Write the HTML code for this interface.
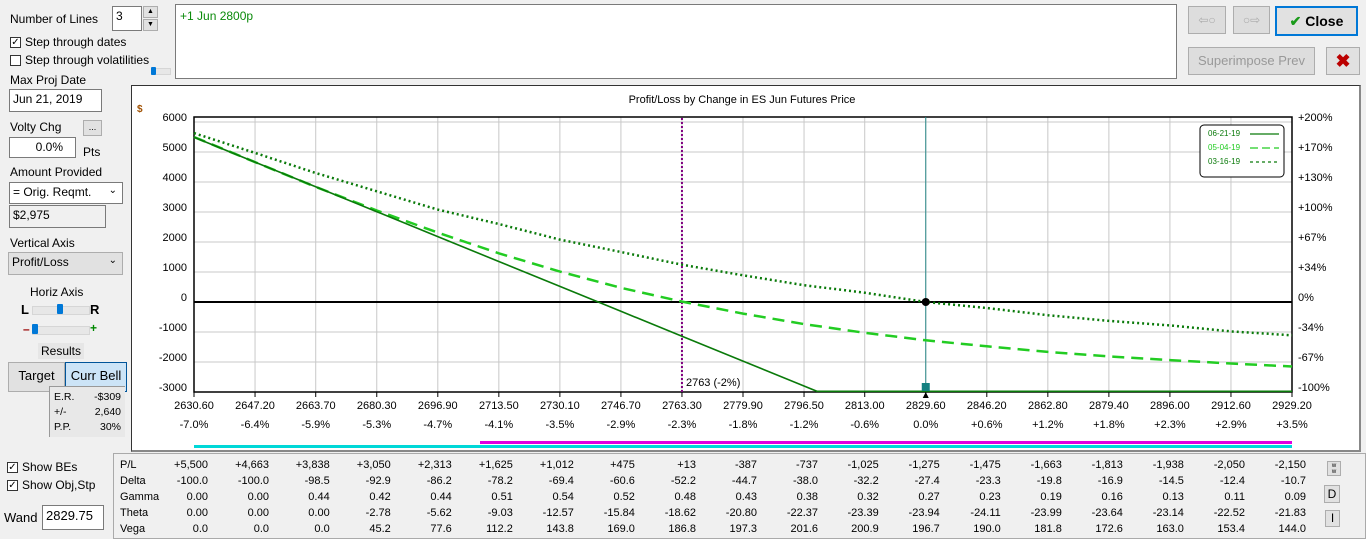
<!DOCTYPE html>
<html><head><meta charset="utf-8">
<style>
body{margin:0;width:1366px;height:539px;background:#f0f0f0;font-family:"Liberation Sans",sans-serif;font-size:12px;color:#000;position:relative;overflow:hidden}
.a{position:absolute}
.in{position:absolute;background:#fff;border:1px solid #7a7a7a;box-sizing:border-box;padding:2px 3px;font-size:12px}
.cb{position:absolute;width:11px;height:11px;border:1px solid #333;background:#fff;box-sizing:border-box;font-size:10px;line-height:9px;text-align:center}
.btn{position:absolute;border:1px solid #adadad;background:#e1e1e1;box-sizing:border-box;text-align:center}
.trk{position:absolute;height:7px;background:#e7e7e7;border:1px solid #d6d6d6}
.th{position:absolute;width:6px;height:10px;background:#0078d7;border-radius:1px}
.tbl{font-size:11px}
</style></head><body>
<div class="a" style="left:10px;top:12px">Number of Lines</div>
<div class="in" style="left:112px;top:6px;width:30px;height:25px">3</div>
<div class="btn" style="left:143px;top:6px;width:15px;height:12px;font-size:7px;line-height:10px">▲</div>
<div class="btn" style="left:143px;top:19px;width:15px;height:12px;font-size:7px;line-height:10px">▼</div>
<div class="cb" style="left:10px;top:37px">✓</div>
<div class="a" style="left:25px;top:35px">Step through dates</div>
<div class="cb" style="left:10px;top:55px"></div>
<div class="a" style="left:25px;top:53px">Step through volatilities</div>
<div class="trk" style="left:151px;top:68px;width:18px;height:5px"></div>
<div class="th" style="left:151px;top:67px;width:5px;height:8px"></div>
<div class="a" style="left:10px;top:73px">Max Proj Date</div>
<div class="in" style="left:9px;top:89px;width:93px;height:23px">Jun 21, 2019</div>
<div class="a" style="left:10px;top:120px">Volty Chg</div>
<div class="btn" style="left:83px;top:120px;width:19px;height:16px;font-size:9px;line-height:12px">...</div>
<div class="in" style="left:9px;top:137px;width:67px;height:21px;text-align:right;padding-right:12px">0.0%</div>
<div class="a" style="left:83px;top:145px">Pts</div>
<div class="a" style="left:10px;top:165px">Amount Provided</div>
<div class="in" style="left:9px;top:182px;width:114px;height:22px">= Orig. Reqmt.<span style="position:absolute;right:5px;top:2px;font-size:10px">⌄</span></div>
<div class="in" style="left:9px;top:205px;width:97px;height:23px;background:#f0f0f0">$2,975</div>
<div class="a" style="left:10px;top:236px">Vertical Axis</div>
<div class="in" style="left:8px;top:252px;width:115px;height:23px;background:#e1e1e1;border-color:#adadad">Profit/Loss<span style="position:absolute;right:5px;top:2px;font-size:10px">⌄</span></div>
<div class="a" style="left:30px;top:285px">Horiz Axis</div>
<div class="a" style="left:21px;top:302px;font-weight:bold;font-size:13px">L</div>
<div class="trk" style="left:32px;top:306px;width:56px"></div>
<div class="th" style="left:57px;top:304px"></div>
<div class="a" style="left:90px;top:302px;font-weight:bold;font-size:13px">R</div>
<div class="a" style="left:23px;top:322px;color:#900;font-weight:bold">–</div>
<div class="trk" style="left:32px;top:326px;width:56px"></div>
<div class="th" style="left:32px;top:324px"></div>
<div class="a" style="left:90px;top:321px;color:#080;font-weight:bold">+</div>
<div class="a" style="left:38px;top:343px;background:#e6e6e6;padding:1px 3px">Results</div>
<div class="btn" style="left:8px;top:362px;width:57px;height:30px;line-height:26px;font-size:13px">Target</div>
<div class="btn" style="left:65px;top:362px;width:62px;height:30px;line-height:26px;font-size:13px;background:#cce4f7;border-color:#005499">Curr Bell</div>
<div class="a" style="left:49px;top:386px;width:75px;height:50px;border-left:1px solid #999;border-top:1px solid #999;background:#e8e8e8;font-size:10.5px">
<div class="a" style="left:4px;top:4px">E.R.</div><div class="a" style="right:4px;top:4px">-$309</div>
<div class="a" style="left:4px;top:19px">+/-</div><div class="a" style="right:4px;top:19px">2,640</div>
<div class="a" style="left:4px;top:34px">P.P.</div><div class="a" style="right:4px;top:34px">30%</div></div>
<div class="cb" style="left:7px;top:462px">✓</div>
<div class="a" style="left:22px;top:460px">Show BEs</div>
<div class="cb" style="left:7px;top:480px">✓</div>
<div class="a" style="left:22px;top:478px">Show Obj,Stp</div>
<div class="a" style="left:4px;top:510px;font-size:13px">Wand</div>
<div class="in" style="left:42px;top:505px;width:62px;height:25px;font-size:13px">2829.75</div>

<div class="in" style="left:175px;top:4px;width:1002px;height:75px;color:#0a8a0a;padding:4px">+1 Jun 2800p</div>
<div class="btn" style="left:1188px;top:6px;width:38px;height:28px;color:#aaa;line-height:26px;background:#ddd">⇦○</div>
<div class="btn" style="left:1233px;top:6px;width:37px;height:28px;color:#aaa;line-height:26px;background:#ddd">○⇨</div>
<div class="btn" style="left:1275px;top:6px;width:83px;height:30px;border:2px solid #0078d7;font-weight:bold;font-size:14px;line-height:26px"><span style="color:#1a9a1a">✔</span> Close</div>
<div class="btn" style="left:1188px;top:47px;width:127px;height:28px;color:#999;line-height:26px;background:#ddd;font-size:13px">Superimpose Prev</div>
<div class="btn" style="left:1326px;top:47px;width:34px;height:28px;color:#b00;font-weight:bold;font-size:18px;line-height:26px">✖</div>

<div class="a" style="left:131px;top:85px;width:1230px;height:367px;background:#fff;border:1px solid #333;box-sizing:border-box;border-right:2px solid #888;border-bottom:2px solid #888"></div>
<svg class="a" style="left:0;top:0" width="1366" height="539" id="chart" font-family="Liberation Sans, sans-serif"></svg>

<div class="a tbl" style="left:113px;top:453px;width:1253px;height:86px;border:1px solid #aaa;box-sizing:border-box"></div>
<div class="btn" style="left:1327px;top:461px;width:14px;height:15px;font-size:6px;line-height:6px;padding-top:1px">w<br>w</div>
<div class="btn" style="left:1324px;top:485px;width:16px;height:18px;font-size:12px;line-height:16px">D</div>
<div class="btn" style="left:1325px;top:510px;width:15px;height:17px;font-size:12px;line-height:15px">I</div>

<script>
const prices=[2630.60,2647.20,2663.70,2680.30,2696.90,2713.50,2730.10,2746.70,2763.30,2779.90,2796.50,2813.00,2829.60,2846.20,2862.80,2879.40,2896.00,2912.60,2929.20];
const pctLabels=["-7.0%","-6.4%","-5.9%","-5.3%","-4.7%","-4.1%","-3.5%","-2.9%","-2.3%","-1.8%","-1.2%","-0.6%","0.0%","+0.6%","+1.2%","+1.8%","+2.3%","+2.9%","+3.5%"];
const yTicks=[6000,5000,4000,3000,2000,1000,0,-1000,-2000,-3000];
const rightLabels=["+200%","+170%","+130%","+100%","+67%","+34%","0%","-34%","-67%","-100%"];
const expiryPrices=[2630.6,2647.2,2663.7,2680.3,2696.9,2713.5,2730.1,2746.7,2763.3,2779.9,2796.5,2800,2813.0,2829.6,2929.2];
const expiryPL=[5495,4665,3840,3010,2180,1350,520,-310,-1140,-1970,-2800,-2975,-2975,-2975,-2975];
const midPL=[5500,4663,3838,3050,2313,1625,1012,475,13,-387,-737,-1025,-1275,-1475,-1663,-1813,-1938,-2050,-2150];
const nowPL=[5630,4970,4300,3690,3080,2600,2080,1667,1244,890,560,310,0,-200,-440,-630,-780,-980,-1110];
const delta=["-100.0","-100.0","-98.5","-92.9","-86.2","-78.2","-69.4","-60.6","-52.2","-44.7","-38.0","-32.2","-27.4","-23.3","-19.8","-16.9","-14.5","-12.4","-10.7"];
const gamma=["0.00","0.00","0.44","0.42","0.44","0.51","0.54","0.52","0.48","0.43","0.38","0.32","0.27","0.23","0.19","0.16","0.13","0.11","0.09"];
const theta=["0.00","0.00","0.00","-2.78","-5.62","-9.03","-12.57","-15.84","-18.62","-20.80","-22.37","-23.39","-23.94","-24.11","-23.99","-23.64","-23.14","-22.52","-21.83"];
const vega=["0.0","0.0","0.0","45.2","77.6","112.2","143.8","169.0","186.8","197.3","201.6","200.9","196.7","190.0","181.8","172.6","163.0","153.4","144.0"];
const beLevel=2763.3, wandLevel=2829.6;

const X0=194,X1=1292,PMIN=2630.6,PMAX=2929.2;
const x=p=>X0+(p-PMIN)/(PMAX-PMIN)*(X1-X0);
const y=v=>302-v*0.03;
const svg=document.getElementById('chart');
const NS='http://www.w3.org/2000/svg';
function mk(tag,attrs,parent){const e=document.createElementNS(NS,tag);for(const k in attrs)e.setAttribute(k,attrs[k]);(parent||svg).appendChild(e);return e;}
function txt(s,attrs){const e=mk('text',attrs);e.textContent=s;return e;}

let t=txt('Profit/Loss by Change in ES Jun Futures Price',{x:742,y:103,'font-size':11,'text-anchor':'middle'});


t=txt('$',{x:137,y:112,'font-size':10,fill:'#a05000','font-weight':'bold'});



const grid=mk('g',{stroke:'#c8c8c8','stroke-width':1});


yTicks.forEach((v,i)=>{
  mk('line',{x1:X0,x2:X1,y1:y(v),y2:y(v)},grid);
  const l=txt(String(v),{x:187,y:y(v)-1,'font-size':11,'text-anchor':'end'});
  
  
  const r=txt(rightLabels[i],{x:1298,y:y(v)-1,'font-size':11});
  
  
});
prices.forEach((p,i)=>{
  mk('line',{x1:x(p),x2:x(p),y1:117,y2:392},grid);
  mk('line',{x1:x(p),x2:x(p),y1:392,y2:397,stroke:'#000'});
  const l=txt(p.toFixed(2),{x:x(p),y:409,'font-size':11,'text-anchor':'middle'});
  
  
  const q=txt(pctLabels[i],{x:x(p),y:428,'font-size':11,'text-anchor':'middle'});
  
  
});
let f=mk('rect',{x:X0,y:117,width:X1-X0,height:275,fill:'none',stroke:'#000','stroke-width':1.5});


let z=mk('line',{x1:X0,x2:X1,y1:y(0),y2:y(0),stroke:'#000','stroke-width':2});



let be=mk('line',{x1:x(beLevel),x2:x(beLevel),y1:118,y2:392,stroke:'#800080','stroke-width':2,'stroke-dasharray':'2,2'});


t=txt('2763 (-2%)',{x:x(beLevel)+4,y:386,'font-size':11});


let w=mk('line',{x1:x(wandLevel),x2:x(wandLevel),y1:117,y2:392,stroke:'#2a8a8a','stroke-width':1});



function poly(xs,vs,attrs,name){
  const pts=xs.map((p,i)=>x(p).toFixed(1)+','+y(vs[i]).toFixed(1)).join(' ');
  const e=mk('polyline',Object.assign({points:pts,fill:'none'},attrs));
  
  
}
poly(prices,nowPL,{stroke:'#0a7a0a','stroke-width':2.5,'stroke-dasharray':'2,3'},'line-03-16-19');
poly(prices,midPL,{stroke:'#22cc22','stroke-width':2.5,'stroke-dasharray':'12,7'},'line-05-04-19');
poly(expiryPrices,expiryPL,{stroke:'#0a7a0a','stroke-width':1.6},'line-06-21-19');

let d=mk('circle',{cx:x(wandLevel),cy:y(0),r:4,fill:'#000'});


let sq=mk('rect',{x:x(wandLevel)-4,y:383,width:8,height:8,fill:'#138080'});


let tri=mk('polygon',{points:`${x(wandLevel)-3},398 ${x(wandLevel)+3},398 ${x(wandLevel)},392`,fill:'#000'});



const lg=mk('g',{});


mk('rect',{x:1200,y:125,width:84,height:52,rx:4,fill:'#fff',stroke:'#000'},lg);
[['06-21-19','#0a7a0a',null,134],['05-04-19','#22cc22','8,4',148],['03-16-19','#0a7a0a','3,3',162]].forEach(r=>{
  const e=mk('text',{x:1208,y:r[3]+2,'font-size':8,fill:r[1]},lg);e.textContent=r[0];
  
  
  const a={x1:1250,x2:1279,y1:r[3],y2:r[3],stroke:r[1],'stroke-width':1.2};
  if(r[2])a['stroke-dasharray']=r[2];
  mk('line',a,lg);
});
let b1=mk('rect',{x:480,y:441,width:X1-480,height:3,fill:'#e000e0'});


let b2=mk('rect',{x:X0,y:445,width:X1-X0,height:3,fill:'#00d8d8'});



const rows=[['P/L',midPL.map(v=>(v>0?'+':v<0?'-':'')+Math.abs(v).toLocaleString('en-US'))],['Delta',delta],['Gamma',gamma],['Theta',theta],['Vega',vega]];
rows.forEach((r,ri)=>{
  const ty=468+ri*16;
  const h=txt(r[0],{x:120,y:ty,'font-size':11});
  
  
  r[1].forEach((s,i)=>{
    const c=txt(s,{x:x(prices[i])+14,y:ty,'font-size':11,'text-anchor':'end'});
    
    
  });
});
</script>
</body></html>
